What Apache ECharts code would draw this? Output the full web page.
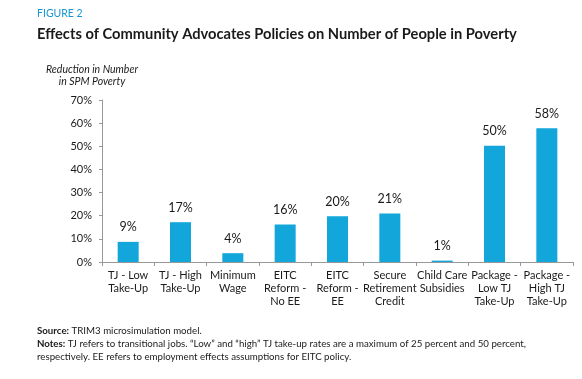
<!DOCTYPE html>
<html><head><meta charset="utf-8">
<script src="https://cdn.jsdelivr.net/npm/echarts@6/dist/echarts.min.js"></script>
<style>html,body{margin:0;padding:0;background:#fff}#c{width:582px;height:379px}</style>
</head><body><div id="c"></div>
<script>
const categories = ["TJ - Low\nTake-Up","TJ - High\nTake-Up","Minimum\nWage","EITC\nReform -\nNo EE","EITC\nReform -\nEE","Secure\nRetirement\nCredit","Child Care\nSubsidies","Package -\nLow TJ\nTake-Up","Package -\nHigh TJ\nTake-Up"];
const values = [8.7, 17.2, 3.8, 16.2, 19.8, 21.0, 0.6, 50.2, 57.8];
const labels = ["9%","17%","4%","16%","20%","21%","1%","50%","58%"];
const yTicks = [0,10,20,30,40,50,60,70];

const chart = echarts.init(document.getElementById('c'));
const F = 'Lato, "Open Sans", sans-serif';
const fs = 9.7;
chart.setOption({
  animation:false,
  textStyle:{fontFamily:F},
  title:[
    {text:'FIGURE 2',left:37,top:8,padding:0,textStyle:{fontFamily:F,fontSize:10.5,fontWeight:'normal',color:'#1696d2'}},
    {text:'Effects of Community Advocates Policies on Number of People in Poverty',left:37,top:27,padding:0,textStyle:{fontFamily:F,fontSize:14.7,fontWeight:'bold',color:'#1a1a1a'}},
    {text:'{b|Source:} TRIM3 microsimulation model.',left:37,top:326,padding:0,textStyle:{fontFamily:F,fontSize:fs,fontWeight:'normal',color:'#1a1a1a',rich:{b:{fontFamily:F,fontSize:fs,fontWeight:'bold',color:'#1a1a1a'}}}},
    {text:'{b|Notes:} TJ refers to transitional jobs. \u201cLow\u201d and \u201chigh\u201d TJ take-up rates are a maximum of 25 percent and 50 percent,',left:37,top:339,padding:0,textStyle:{fontFamily:F,fontSize:fs,fontWeight:'normal',color:'#1a1a1a',rich:{b:{fontFamily:F,fontSize:fs,fontWeight:'bold',color:'#1a1a1a'}}}},
    {text:'respectively. EE refers to employment effects assumptions for EITC policy.',left:37,top:352,padding:0,textStyle:{fontFamily:F,fontSize:fs,fontWeight:'normal',color:'#1a1a1a'}}
  ],
  graphic:[{type:'text',x:92,y:64,style:{text:'Reduction in Number\nin SPM Poverty',font:'italic 10.5px '+F,fill:'#1a1a1a',lineHeight:12,align:'center'}}],
  grid:{left:102,right:9,top:100,bottom:117,containLabel:false},
  xAxis:{type:'category',data:categories,
    axisLine:{lineStyle:{color:'#999'}},
    axisTick:{show:true,length:4,lineStyle:{color:'#999'}},
    axisLabel:{interval:0,color:'#1a1a1a',fontSize:11,lineHeight:13,margin:7,fontFamily:F}},
  yAxis:{type:'value',min:0,max:70,interval:10,
    axisLine:{show:true,lineStyle:{color:'#999'}},
    axisTick:{show:true,length:3,lineStyle:{color:'#999'}},
    splitLine:{show:false},
    axisLabel:{formatter:v=>yTicks.includes(v)?v+'%':'',color:'#1a1a1a',fontSize:11,margin:10,fontFamily:F}},
  series:[{type:'bar',data:values,barWidth:21,itemStyle:{color:'#12a6da'},
    label:{show:true,position:'top',distance:8,fontSize:12.5,color:'#1a1a1a',fontFamily:F,formatter:p=>labels[p.dataIndex]}}]
});
</script></body></html>
